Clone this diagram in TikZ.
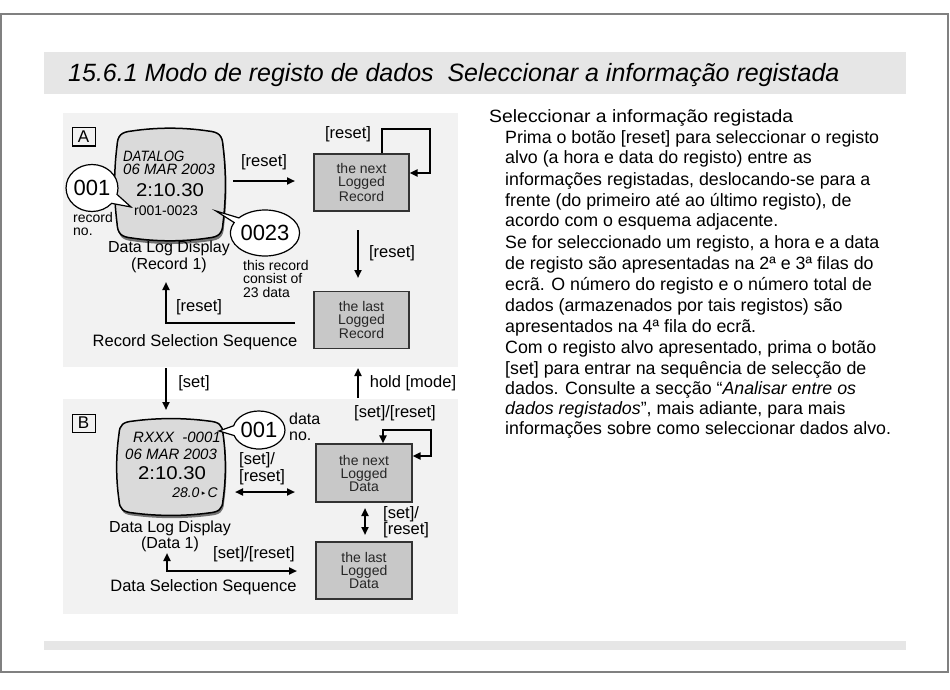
\documentclass[tikz,border=0pt]{standalone}
\usepackage{fontspec}
\setmainfont{Liberation Sans}
\newfontfamily\dejavu{DejaVu Sans}
\usetikzlibrary{arrows.meta,shapes.callouts,shapes.geometric}
\definecolor{panelgray}{HTML}{F2F2F2}
\definecolor{bargray}{HTML}{E6E6E6}
\definecolor{boxgray}{HTML}{C8C8C8}
\definecolor{lcdgray}{HTML}{DADADA}
\definecolor{framegray}{HTML}{808080}
\tikzset{
 lcdshape/.pic={
  \fill[black!55,shift={(2,6)}] (-72,-100) .. controls (-25,-107) and (25,-107) .. (72,-100) .. controls (92,-98) and (99,-92) .. (100,-72) .. controls (106,-25) and (106,25) .. (100,72) .. controls (99,92) and (92,98) .. (72,100) .. controls (25,107) and (-25,107) .. (-72,100) .. controls (-92,98) and (-99,92) .. (-100,72) .. controls (-106,25) and (-106,-25) .. (-100,-72) .. controls (-99,-92) and (-92,-98) .. (-72,-100) -- cycle;
  \filldraw[fill=lcdgray, draw=black, line width=1.5pt] (-72,-100) .. controls (-25,-107) and (25,-107) .. (72,-100) .. controls (92,-98) and (99,-92) .. (100,-72) .. controls (106,-25) and (106,25) .. (100,72) .. controls (99,92) and (92,98) .. (72,100) .. controls (25,107) and (-25,107) .. (-72,100) .. controls (-92,98) and (-99,92) .. (-100,72) .. controls (-106,25) and (-106,-25) .. (-100,-72) .. controls (-99,-92) and (-92,-98) .. (-72,-100) -- cycle;
 }
}
\begin{document}
\begin{tikzpicture}[x=1pt,y=-1pt,
  lbl/.style={font=\fontsize{16.5}{16.5}\selectfont, inner sep=0, align=left},
  sm/.style={font=\fontsize{14}{13.5}\selectfont, inner sep=0, align=left},
  boxnode/.style={draw=black!80, line width=1.3pt, fill=boxgray, text=black!85,
     font=\fontsize{14}{13}\selectfont, align=center, inner sep=0,
     minimum width=95pt, minimum height=57pt},
  tag/.style={draw=black, line width=1pt, minimum width=23pt, minimum height=18pt,
     font=\fontsize{17}{17}\selectfont, inner sep=0},
  lcdit/.style={font=\fontsize{15}{15}\selectfont\itshape, inner sep=0},
  lcdbig/.style={font=\fontsize{18.5}{18.5}\selectfont, inner sep=0},
  bubble/.style={ellipse callout, draw=black, line width=1.2pt, fill=white, inner sep=0,
     font=\fontsize{22}{22}\selectfont},
  txt/.style={font=\fontsize{17.8}{20}\selectfont, inner sep=0, anchor=base west},
  arr/.style={line width=2pt, -{Triangle[length=8pt,width=7pt]}},
  darr/.style={line width=2pt, {Triangle[length=8pt,width=7pt]}-{Triangle[length=8pt,width=7pt]}},
  ]
\useasboundingbox (0,0) rectangle (950,690);
\fill[white] (0,0) rectangle (950,690);
% frame and bars
\draw[framegray, line width=1.3pt] (1,14) rectangle (948,672);
\fill[bargray] (44,52) rectangle (906,94);
\fill[bargray] (44,641) rectangle (906,650);
\node[font=\fontsize{25}{25}\selectfont\itshape, inner sep=0, anchor=base west] (title) at (68,82)
  {15.6.1 Modo de registo de dados\ \ Seleccionar a informação registada};

% panels
\fill[panelgray] (63,113) rectangle (458,367);
\fill[panelgray] (63,399) rectangle (458,614);

% ---------- Panel A ----------
\node[tag] (tagA) at (83.5,137) {A};
\pic[xscale=0.53, yscale=0.535] at (170,184.5) {lcdshape};
\node[lcdit, anchor=west] (a1) at (123,156) {\scalebox{0.88}[1]{DATALOG}};
\node[lcdit, anchor=west] (a2) at (123,169.5) {06 MAR 2003};
\node[lcdbig] (a3) at (170,190.5) {\scalebox{1.1}[1]{2:10.30}};
\node[font=\fontsize{14}{14}\selectfont, inner sep=0] (a4) at (166,211) {r001-0023};
\node[bubble, minimum width=47pt, minimum height=47pt, callout absolute pointer={(131,207)}, callout pointer arc=25] (cA) at (92,188) {001};
\node[bubble, minimum width=58pt, minimum height=46pt, callout absolute pointer={(216,211)}, callout pointer arc=14] (cB) at (265,233) {0023};
\node[sm, anchor=west] (recno) at (73,224) {record\\no.};
\node[sm, anchor=west] (cons) at (243,278.5) {this record\\consist of\\23 data};
\node[lbl, align=center, font=\fontsize{16}{17}\selectfont] (dldA) at (169,256.5) {Data Log Display\\(Record 1)};
\node[lbl] (rss) at (195,342) {Record Selection Sequence};

\node[boxnode] (recnext) at (361.5,182.5) {the next\\Logged\\Record};
\node[boxnode] (reclast) at (361.5,320) {the last\\Logged\\Record};

\coordinate (ra1) at (233,181);
\coordinate (ra2) at (295,181);
\draw[arr] (ra1) -- (ra2);
\node[lbl] (lresetA) at (264,162) {[reset]};

\coordinate (la1) at (382,129);
\coordinate (la2) at (430,129);
\coordinate (la3) at (430,173);
\draw[arr, line width=2.4pt] (recnext.north -| la1) -- (la1) -- (la2) -- (la3) -- (recnext.east |- la3);
\node[lbl] (lloopA) at (348,134) {[reset]};

\coordinate (da1) at (358,230);
\coordinate (da2) at (358,278);
\draw[arr] (da1) -- (da2);
\node[lbl] (ldownA) at (392,253) {[reset]};

\coordinate (fb1) at (295,323);
\coordinate (fb2) at (166,323);
\coordinate (fb3) at (166,282);
\draw[arr] (fb1) -- (fb2) -- (fb3);
\node[lbl] (lbackA) at (199,307) {[reset]};

% ---------- between panels ----------
\coordinate (s1) at (166,368);
\coordinate (s2) at (166,410);
\draw[arr] (s1) -- (s2);
\node[lbl] (lset) at (194,383) {[set]};
\coordinate (h1) at (358,398);
\coordinate (h2) at (358,368);
\draw[arr] (h1) -- (h2);
\node[lbl] (lhold) at (413,383) {hold [mode]};

% ---------- Panel B ----------
\node[tag] (tagB) at (83.5,423) {B};
\pic[xscale=0.52, yscale=0.46] at (171,467) {lcdshape};
\node[lcdit, anchor=west] (b1) at (133,437.5) {RXXX\ \ -0001};
\node[lcdit, anchor=west] (b2) at (125,454) {06 MAR 2003};
\node[lcdbig] (b3) at (172,473) {\scalebox{1.1}[1]{2:10.30}};
\node[lcdit, anchor=east, font=\fontsize{14}{14}\selectfont\itshape] (b4) at (218,493) {28.0\,\raisebox{2pt}{\dejavu\fontsize{7}{7}\selectfont ▸}\,C};
\node[bubble, minimum width=48pt, minimum height=38pt, callout absolute pointer={(219,431)}, callout pointer arc=30] (cC) at (259,430) {001};
\node[lbl, anchor=west, font=\fontsize{16}{15.5}\selectfont] (datano) at (289,427) {data\\no.};
\node[lbl, anchor=west, font=\fontsize{16.5}{16.5}\selectfont] (lsrB) at (239,468.5) {[set]/\\{}[reset]};
\coordinate (db1) at (235,492);
\coordinate (db2) at (295,492);
\draw[darr] (db1) -- (db2);
\node[lbl, align=center, font=\fontsize{16}{16}\selectfont] (dldB) at (170,536) {Data Log Display\\(Data 1)};
\node[lbl] (lsr2) at (254,554) {[set]/[reset]};
\coordinate (ds1) at (167,553);
\coordinate (ds2) at (167,571);
\coordinate (ds3) at (297,571);
\draw[darr] (ds1) -- (ds2) -- (ds3);
\node[lbl] (dss) at (203.5,587) {Data Selection Sequence};

\node[boxnode, minimum width=96pt, minimum height=58pt] (datnext) at (364,473) {the next\\Logged\\Data};
\node[boxnode, minimum width=96pt, minimum height=57pt] (datlast) at (364,570.5) {the last\\Logged\\Data};
\node[lbl] (lsr3) at (395,413) {[set]/[reset]};
\coordinate (lb1) at (383,430);
\coordinate (lb2) at (431,430);
\coordinate (lb3) at (431,456);
\draw[darr, line width=2.4pt] (datnext.north -| lb1) -- (lb1) -- (lb2) -- (lb3) -- (datnext.east |- lb3);
\coordinate (vb1) at (365,508);
\coordinate (vb2) at (365,535);
\draw[darr] (vb1) -- (vb2);
\node[lbl, anchor=west] (lsr4) at (383,522) {[set]/\\{}[reset]};

% ---------- right text ----------
\node[txt] (h) at (489,123) {\scalebox{1.09}[1]{Seleccionar a informação registada}};
\node[txt] (l1) at (505,143.5) {Prima o botão [reset] para seleccionar o registo};
\node[txt] (l2) at (505,164) {alvo (a hora e data do registo) entre as};
\node[txt] (l3) at (505,185) {informações registadas, deslocando-se para a};
\node[txt] (l4) at (505,206) {frente (do primeiro até ao último registo), de};
\node[txt] (l5) at (505,226.5) {acordo com o esquema adjacente.};
\node[txt] (l6) at (505,248) {Se for seleccionado um registo, a hora e a data};
\node[txt] (l7) at (505,269) {de registo são apresentadas na 2ª e 3ª filas do};
\node[txt] (l8) at (505,290.5) {ecrã. O número do registo e o número total de};
\node[txt] (l9) at (505,311.5) {dados (armazenados por tais registos) são};
\node[txt] (l10) at (505,332) {apresentados na 4ª fila do ecrã.};
\node[txt] (l11) at (505,353.5) {Com o registo alvo apresentado, prima o botão};
\node[txt] (l12) at (505,374) {[set] para entrar na sequência de selecção de};
\node[txt] (l13) at (505,394.5) {dados. Consulte a secção “\textit{Analisar entre os}};
\node[txt] (l14) at (505,414.5) {\textit{dados registados}”, mais adiante, para mais};
\node[txt] (l15) at (505,434.5) {informações sobre como seleccionar dados alvo.};
\end{tikzpicture}
\end{document}
